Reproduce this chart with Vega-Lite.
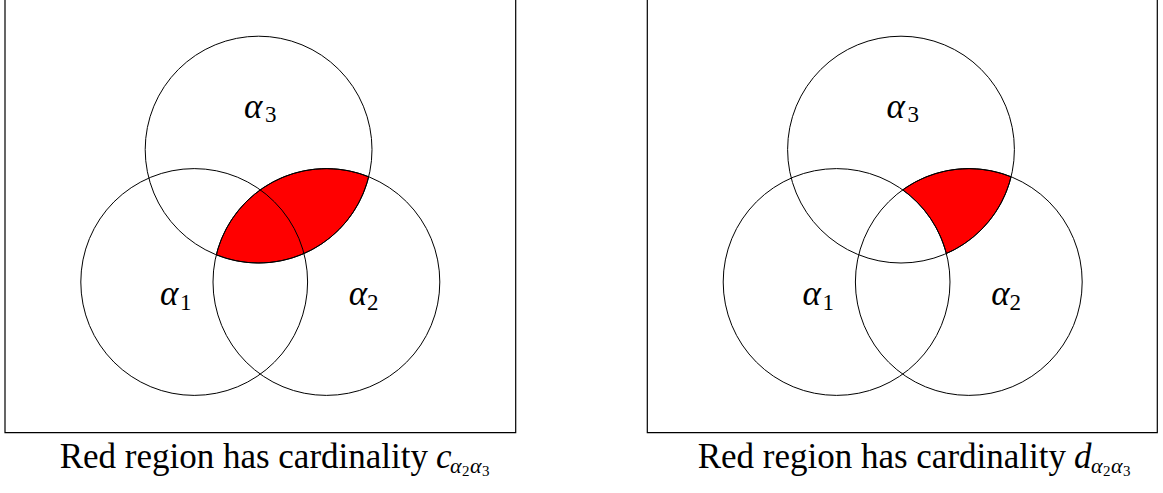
{
  "$schema": "https://vega.github.io/schema/vega-lite/v6.json",
  "width": 1163,
  "height": 493,
  "autosize": {"type": "fit", "contains": "padding"},
  "padding": 0,
  "background": "white",
  "config": {"view": {"stroke": null}},
  "datasets": {
    "boxes": [
      {"panel": "c", "x": 5, "x2": 515.7, "y": -4, "y2": 432.7},
      {"panel": "d", "x": 647.3, "x2": 1157.3, "y": -4, "y2": 432.7}
    ],
    "circles": [
      {"panel": "c", "set": "α1", "x": 194.2, "y": 282},
      {"panel": "c", "set": "α2", "x": 326.4, "y": 282},
      {"panel": "c", "set": "α3", "x": 258.6, "y": 149.6},
      {"panel": "d", "set": "α1", "x": 836.6, "y": 282},
      {"panel": "d", "set": "α2", "x": 968.8, "y": 282},
      {"panel": "d", "set": "α3", "x": 901.0, "y": 149.6}
    ],
    "regions": [
      {"panel": "c", "x": 258.6, "y": 149.6},
      {"panel": "d", "x": 901.0, "y": 149.6}
    ],
    "labels": [
      {"role": "alpha", "text": "α", "x": 169.2, "y": 305},
      {"role": "asub", "text": "1", "x": 180, "y": 310},
      {"role": "alpha", "text": "α", "x": 358, "y": 305},
      {"role": "asub", "text": "2", "x": 367, "y": 310},
      {"role": "alpha", "text": "α", "x": 253.3, "y": 117.5},
      {"role": "asub", "text": "3", "x": 265, "y": 122},
      {"role": "alpha", "text": "α", "x": 811.6, "y": 305},
      {"role": "asub", "text": "1", "x": 822.4, "y": 310},
      {"role": "alpha", "text": "α", "x": 1000.4, "y": 305},
      {"role": "asub", "text": "2", "x": 1009.4, "y": 310},
      {"role": "alpha", "text": "α", "x": 895.7, "y": 117.5},
      {"role": "asub", "text": "3", "x": 907.4, "y": 122},
      {"role": "cap", "text": "Red region has cardinality", "x": 428, "y": 468},
      {"role": "capvar", "text": "c", "x": 436, "y": 468},
      {"role": "capsa", "text": "α", "x": 450, "y": 473},
      {"role": "capsd", "text": "2", "x": 462, "y": 476},
      {"role": "capsa", "text": "α", "x": 470, "y": 473},
      {"role": "capsd", "text": "3", "x": 482, "y": 476},
      {"role": "cap", "text": "Red region has cardinality", "x": 1066, "y": 468},
      {"role": "capvar", "text": "d", "x": 1074, "y": 468},
      {"role": "capsa", "text": "α", "x": 1091, "y": 473},
      {"role": "capsd", "text": "2", "x": 1103, "y": 476},
      {"role": "capsa", "text": "α", "x": 1111, "y": 473},
      {"role": "capsd", "text": "3", "x": 1123, "y": 476}
    ]
  },
  "encoding": {
    "x": {"field": "x", "type": "quantitative", "scale": {"domain": [0, 1163], "nice": false, "zero": false}, "axis": null},
    "y": {"field": "y", "type": "quantitative", "scale": {"domain": [0, 493], "reverse": true, "nice": false, "zero": false}, "axis": null}
  },
  "layer": [
    {
      "data": {"name": "boxes"},
      "mark": {"type": "rect", "filled": false, "stroke": "black", "strokeWidth": 1.2, "clip": true},
      "encoding": {"x2": {"field": "x2"}, "y2": {"field": "y2"}}
    },
    {
      "data": {"name": "regions"},
      "transform": [{"filter": "datum.panel === 'c'"}],
      "mark": {"type": "point", "shape": "M110.09,27.18 A113.4,113.4 0 0 1 -42.29,105.22 A113.4,113.4 0 0 1 110.09,27.18 Z", "size": 4, "filled": true, "fill": "#ff0000", "stroke": "black", "strokeWidth": 1, "opacity": 1}
    },
    {
      "data": {"name": "regions"},
      "transform": [{"filter": "datum.panel === 'd'"}],
      "mark": {"type": "point", "shape": "M110.09,27.18 A113.4,113.4 0 0 0 1.7,40.26 A113.4,113.4 0 0 1 45.37,103.93 A113.4,113.4 0 0 0 110.09,27.18 Z", "size": 4, "filled": true, "fill": "#ff0000", "stroke": "black", "strokeWidth": 1, "opacity": 1}
    },
    {
      "data": {"name": "circles"},
      "mark": {"type": "point", "shape": "circle", "size": 51438, "filled": false, "stroke": "black", "strokeWidth": 1, "opacity": 1}
    },
    {
      "data": {"name": "labels"},
      "transform": [{"filter": "datum.role === 'alpha'"}],
      "mark": {"type": "text", "font": "Liberation Serif", "fontStyle": "italic", "fontSize": 35, "align": "center", "baseline": "alphabetic", "color": "black"},
      "encoding": {"text": {"field": "text"}}
    },
    {
      "data": {"name": "labels"},
      "transform": [{"filter": "datum.role === 'asub'"}],
      "mark": {"type": "text", "font": "Liberation Serif", "fontSize": 23, "align": "left", "baseline": "alphabetic", "color": "black"},
      "encoding": {"text": {"field": "text"}}
    },
    {
      "data": {"name": "labels"},
      "transform": [{"filter": "datum.role === 'cap'"}],
      "mark": {"type": "text", "font": "Liberation Serif", "fontSize": 35, "align": "right", "baseline": "alphabetic", "color": "black"},
      "encoding": {"text": {"field": "text"}}
    },
    {
      "data": {"name": "labels"},
      "transform": [{"filter": "datum.role === 'capvar'"}],
      "mark": {"type": "text", "font": "Liberation Serif", "fontStyle": "italic", "fontSize": 35, "align": "left", "baseline": "alphabetic", "color": "black"},
      "encoding": {"text": {"field": "text"}}
    },
    {
      "data": {"name": "labels"},
      "transform": [{"filter": "datum.role === 'capsa'"}],
      "mark": {"type": "text", "font": "Liberation Serif", "fontStyle": "italic", "fontSize": 22, "align": "left", "baseline": "alphabetic", "color": "black"},
      "encoding": {"text": {"field": "text"}}
    },
    {
      "data": {"name": "labels"},
      "transform": [{"filter": "datum.role === 'capsd'"}],
      "mark": {"type": "text", "font": "Liberation Serif", "fontSize": 15, "align": "left", "baseline": "alphabetic", "color": "black"},
      "encoding": {"text": {"field": "text"}}
    }
  ]
}
